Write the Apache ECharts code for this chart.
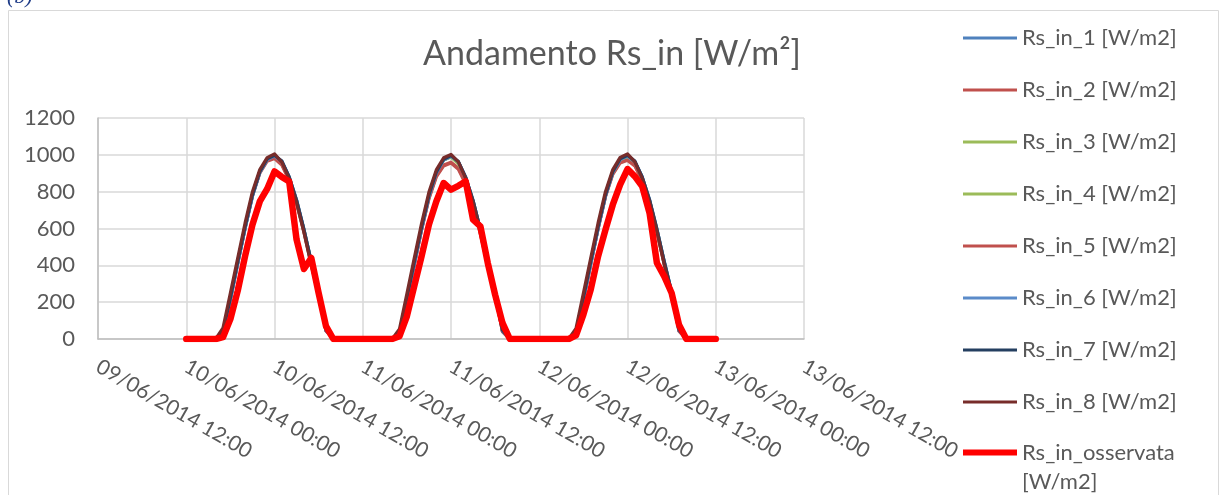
<!DOCTYPE html>
<html>
<head>
<meta charset="utf-8">
<script src="https://cdn.jsdelivr.net/npm/echarts@6/dist/echarts.min.js"></script>
<style>
html,body{margin:0;padding:0;background:#fff;}
#chart{width:1224px;height:495px;}
</style>
</head>
<body>
<div id="chart"></div>
<script>
// X axis tick labels (every 12 h, axis starts 09/06/2014 12:00)
const tickLabels = ['09/06/2014 12:00','10/06/2014 00:00','10/06/2014 12:00','11/06/2014 00:00','11/06/2014 12:00','12/06/2014 00:00','12/06/2014 12:00','13/06/2014 00:00','13/06/2014 12:00'];
// hourly samples from 10/06/2014 00:00 (=12 h after axis start) to 13/06/2014 00:00
const firstSampleHour = 12;

const seriesNames = ['Rs_in_1 [W/m2]','Rs_in_2 [W/m2]','Rs_in_3 [W/m2]','Rs_in_4 [W/m2]','Rs_in_5 [W/m2]','Rs_in_6 [W/m2]','Rs_in_7 [W/m2]','Rs_in_8 [W/m2]','Rs_in_osservata [W/m2]'];

const rs1 = [0,0,0,0,0,30,215,410,600,775,905,975,995,965,880,755,595,420,255,45,0,0,0,0,
             0,0,0,0,0,28,210,405,598,772,902,972,992,962,878,752,592,418,252,42,0,0,0,0,
             0,0,0,0,0,32,214,408,600,776,905,974,994,964,880,756,596,420,256,46,0,0,0,0,0];
const rs2 = [0,0,0,0,0,35,220,415,605,780,905,970,985,950,865,740,585,410,245,45,0,0,0,0,
             0,0,0,0,0,30,212,405,595,765,885,945,960,928,848,728,572,400,240,40,0,0,0,0,
             0,0,0,0,0,34,216,410,600,775,898,960,975,945,862,740,584,408,246,44,0,0,0,0,0];
const rs3 = [0,0,0,0,0,40,225,420,610,785,910,975,990,955,870,745,590,415,250,50,0,0,0,0,
             0,0,0,0,0,38,222,418,606,782,906,972,988,952,868,744,588,412,248,48,0,0,0,0,
             0,0,0,0,0,40,224,420,608,784,908,974,990,954,870,746,590,414,250,50,0,0,0,0,0];
const rs4 = [0,0,0,0,0,40,228,422,612,786,910,976,992,956,872,746,590,414,248,48,0,0,0,0,
             0,0,0,0,0,38,224,420,610,784,908,974,990,954,870,745,588,412,246,46,0,0,0,0,
             0,0,0,0,0,40,226,422,612,786,910,976,992,956,872,747,590,414,248,48,0,0,0,0,0];
const rs5 = [0,0,0,0,0,35,218,412,602,778,900,965,980,945,860,738,580,405,242,44,0,0,0,0,
             0,0,0,0,0,30,210,402,592,762,880,940,955,922,842,724,568,398,238,40,0,0,0,0,
             0,0,0,0,0,33,214,408,598,772,894,956,970,940,858,736,580,405,244,43,0,0,0,0,0];
const rs6 = [0,0,0,0,0,32,215,410,600,776,904,974,994,964,878,752,594,418,254,46,0,0,0,0,
             0,0,0,0,0,30,212,406,598,774,902,972,992,962,876,750,592,416,252,44,0,0,0,0,
             0,0,0,0,0,32,214,408,600,776,904,974,993,963,878,754,595,418,255,46,0,0,0,0,0];
const rs7 = [0,0,0,0,0,38,222,418,608,782,908,978,998,966,880,754,596,420,256,50,0,0,0,0,
             0,0,0,0,0,36,220,416,606,780,906,976,996,964,878,752,594,418,254,48,0,0,0,0,
             0,0,0,0,0,38,222,418,608,782,908,978,998,966,880,755,596,420,256,50,0,0,0,0,0];
const rs8 = [0,0,0,0,0,60,250,440,630,800,920,985,1005,960,870,740,580,400,240,60,0,0,0,0,
             0,0,0,0,0,55,245,438,628,798,918,984,1002,962,872,742,582,402,238,55,0,0,0,0,
             0,0,0,0,0,58,248,440,630,800,920,986,1005,962,872,744,584,404,242,58,0,0,0,0,0];
const rsObs = [0,0,0,0,0,10,108,262,450,620,747,815,910,880,855,540,380,440,250,70,0,0,0,0,
               0,0,0,0,0,15,123,286,449,621,747,847,811,832,856,648,612,413,240,87,0,0,0,0,
               0,0,0,0,0,20,132,268,449,593,729,838,923,883,829,684,413,340,250,78,0,0,0,0,0];

const seriesValues = [rs1, rs2, rs3, rs4, rs5, rs6, rs7, rs8, rsObs];
const seriesColors = ['#4F81BD','#C0504D','#9BBB59','#9BBB59','#C0504D','#5B8BC9','#243F60','#772C2A','#FF0000'];
const seriesWidths = [3.2,3.2,3.2,3.2,3.2,3.2,3.2,3.2,6.5];

const FONT = 'Lato';
const TXT = '#595959';

const chart = echarts.init(document.getElementById('chart'), null, {renderer:'canvas'});

const series = seriesValues.map((vals, k) => ({
  name: seriesNames[k],
  type: 'line',
  data: vals.map((v, i) => [firstSampleHour + i, v]),
  showSymbol: false,
  symbol: 'none',
  smooth: false,
  animation: false,
  color: seriesColors[k],
  lineStyle: { width: seriesWidths[k], color: seriesColors[k], cap: 'round', join: 'round' },
  z: 2 + k
}));

chart.setOption({
  animation: false,
  title: {
    text: 'Andamento Rs_in [W/m²]',
    left: 'center',
    top: 32,
    textStyle: { fontFamily: FONT, fontSize: 34, fontWeight: 'normal', color: TXT }
  },
  legend: [{
    data: seriesNames.slice(0, 8),
    orient: 'vertical',
    left: 963,
    top: 26,
    padding: 0,
    itemWidth: 54,
    itemHeight: 3,
    itemGap: 28,
    icon: 'rect',
    textStyle: { fontFamily: FONT, fontSize: 22, color: TXT, lineHeight: 24 }
  }, {
    data: [seriesNames[8]],
    orient: 'vertical',
    left: 963,
    top: 409,
    padding: 0,
    itemWidth: 54,
    itemHeight: 6,
    icon: 'rect',
    formatter: () => '\u00a0\nRs_in_osservata\n[W/m2]',
    textStyle: { fontFamily: FONT, fontSize: 22, color: TXT, lineHeight: 29 }
  }],
  grid: { left: 98, top: 118, right: 420, bottom: 156, containLabel: false },
  xAxis: {
    type: 'value',
    min: 0,
    max: 96,
    interval: 12,
    axisLine: { show: true, lineStyle: { color: '#BFBFBF', width: 1.5 } },
    axisTick: { show: false },
    splitLine: { show: true, lineStyle: { color: '#D9D9D9', width: 1.5 } },
    axisLabel: {
      rotate: -30,
      margin: 26,
      formatter: v => tickLabels[Math.round(v / 12)],
      fontFamily: FONT, fontSize: 21, color: TXT,
      showMinLabel: true, showMaxLabel: true
    }
  },
  yAxis: {
    type: 'value',
    min: 0,
    max: 1200,
    interval: 200,
    axisLine: { show: true, lineStyle: { color: '#BFBFBF', width: 1.5 } },
    axisTick: { show: false },
    splitLine: { show: true, lineStyle: { color: '#D9D9D9', width: 1.5 } },
    axisLabel: { margin: 23, formatter: v => String(v), fontFamily: FONT, fontSize: 22, color: TXT }
  },
  graphic: [{
    type: 'rect',
    shape: { x: 8.5, y: 10.5, width: 1210, height: 520 },
    style: { fill: 'none', stroke: '#D9D9D9', lineWidth: 1 },
    silent: true, z: -1
  }, {
    type: 'text',
    left: 7,
    top: -14,
    style: { text: '(b)', font: 'italic 22px "Liberation Serif"', fill: '#1F3C88' },
    silent: true
  }],
  series: series
});
</script>
</body>
</html>
